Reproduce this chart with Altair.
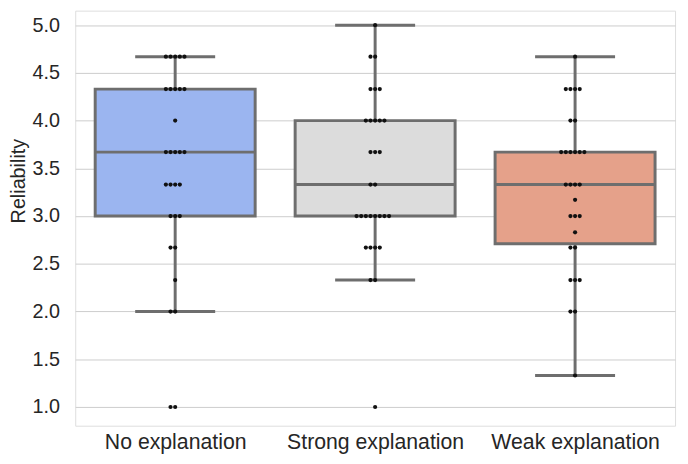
import altair as alt
import pandas as pd

groups = ["No explanation", "Strong explanation", "Weak explanation"]
box_colors = ["#9bb5f0", "#dcdcdc", "#e5a18a"]

# box statistics
box_q1 = [3.0, 3.0, 2.71]
box_med = [3.67, 3.33, 3.33]
box_q3 = [4.33, 4.0, 3.67]
whisk_lo = [2.0, 2.33, 1.33]
whisk_hi = [4.67, 5.0, 4.67]

# swarm points: distinct values and how many respondents gave each
no_vals = [4.67, 4.33, 4.0, 3.67, 3.33, 3.0, 2.67, 2.33, 2.0, 1.0]
no_counts = [5, 5, 1, 5, 4, 3, 2, 1, 2, 2]
strong_vals = [5.0, 4.67, 4.33, 4.0, 3.67, 3.33, 3.0, 2.67, 2.33, 1.0]
strong_counts = [1, 2, 3, 5, 3, 2, 8, 4, 2, 1]
weak_vals = [4.67, 4.33, 4.0, 3.67, 3.33, 3.17, 3.0, 2.83, 2.67, 2.33, 2.0, 1.33]
weak_counts = [1, 4, 2, 6, 4, 1, 3, 1, 2, 3, 2, 1]

PLOT_W = 607
PLOT_H = 420
BOX_HALF = 0.4
CAP_HALF = 0.2
DOT_STEP = 4.7 / (PLOT_W / 3.0)  # swarm spacing in x-units

box_df = pd.DataFrame({
    "g": list(range(3)),
    "name": groups,
    "q1": box_q1, "med": box_med, "q3": box_q3,
    "lo": whisk_lo, "hi": whisk_hi,
})
box_df["xl"] = box_df["g"] - BOX_HALF
box_df["xr"] = box_df["g"] + BOX_HALF
box_df["cl"] = box_df["g"] - CAP_HALF
box_df["cr"] = box_df["g"] + CAP_HALF

rows = []
for gi, (vals, cnts) in enumerate([(no_vals, no_counts), (strong_vals, strong_counts), (weak_vals, weak_counts)]):
    for v, c in zip(vals, cnts):
        for k in range(c):
            # beeswarm order: centre, left, right, further left, further right...
            if k == 0:
                o = 0
            elif k % 2 == 1:
                o = -((k + 1) // 2)
            else:
                o = k // 2
            rows.append({"g": gi, "v": v, "x": gi + o * DOT_STEP})
pts_df = pd.DataFrame(rows)

EDGE = "#6e6e6e"
FONT = "Liberation Sans"
xscale = alt.Scale(domain=[-0.5, 2.5], nice=False, zero=False)
yscale = alt.Scale(domain=[0.804, 5.152], nice=False, zero=False)

label_expr = "datum.value == 0 ? 'No explanation' : datum.value == 1 ? 'Strong explanation' : 'Weak explanation'"

x_axis = alt.Axis(values=[0, 1, 2], labelExpr=label_expr, title=None, ticks=False,
                  domain=False, grid=False, labelFontSize=21.5, labelColor="#262626",
                  labelPadding=6, labelFont=FONT, labelLimit=0, labelOverlap=False)
y_axis = alt.Axis(values=[1.0, 1.5, 2.0, 2.5, 3.0, 3.5, 4.0, 4.5, 5.0], format=".1f",
                  title="Reliability", ticks=False, domain=False, grid=True,
                  gridColor="#cccccc", gridWidth=1, labelFontSize=20,
                  labelColor="#262626", labelPadding=16, labelFont=FONT,
                  titleFont=FONT, titleFontSize=20, titleFontWeight="normal",
                  titleColor="#262626", titleX=-57, titleY=172, titleBaseline="middle",
                  titleAlign="center", titleAngle=-90)

base = alt.Chart(box_df)

boxes = base.mark_rect(strokeWidth=3, stroke=EDGE).encode(
    x=alt.X("xl:Q", scale=xscale, axis=x_axis),
    x2="xr:Q",
    y=alt.Y("q1:Q", scale=yscale, axis=y_axis),
    y2="q3:Q",
    color=alt.Color("name:N", scale=alt.Scale(domain=groups, range=box_colors), legend=None),
)

whisk_up = base.mark_rule(strokeWidth=3, color=EDGE).encode(
    x=alt.X("g:Q", scale=xscale), y=alt.Y("q3:Q", scale=yscale), y2="hi:Q")
whisk_dn = base.mark_rule(strokeWidth=3, color=EDGE).encode(
    x=alt.X("g:Q", scale=xscale), y=alt.Y("lo:Q", scale=yscale), y2="q1:Q")
cap_hi = base.mark_rule(strokeWidth=3, color=EDGE).encode(
    x=alt.X("cl:Q", scale=xscale), x2="cr:Q", y=alt.Y("hi:Q", scale=yscale))
cap_lo = base.mark_rule(strokeWidth=3, color=EDGE).encode(
    x=alt.X("cl:Q", scale=xscale), x2="cr:Q", y=alt.Y("lo:Q", scale=yscale))
median = base.mark_rule(strokeWidth=3, color=EDGE).encode(
    x=alt.X("xl:Q", scale=xscale), x2="xr:Q", y=alt.Y("med:Q", scale=yscale))

points = alt.Chart(pts_df).mark_circle(size=18, color="#111111", opacity=1).encode(
    x=alt.X("x:Q", scale=xscale), y=alt.Y("v:Q", scale=yscale))

chart = alt.layer(whisk_up, whisk_dn, cap_hi, cap_lo, boxes, median, points).properties(
    width=PLOT_W, height=PLOT_H,
    autosize=alt.AutoSizeParams(type="none"),
    padding={"left": 68, "top": 0, "right": 5, "bottom": 30},
).configure_view(stroke="#cccccc", strokeWidth=1.2).configure(background="white")

chart.save("out.html", embed_options={"renderer": "svg", "actions": False})
